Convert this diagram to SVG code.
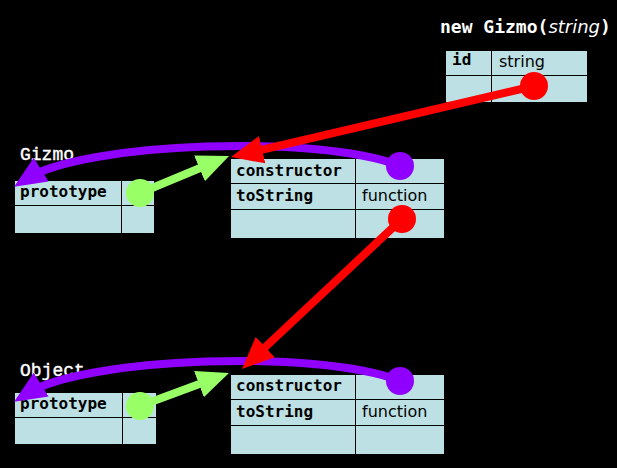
<svg xmlns="http://www.w3.org/2000/svg" width="617" height="468" viewBox="0 0 617 468">
<style>
.cell{fill:#bce0e4;stroke:#000;stroke-width:1}
.key{font-family:"DejaVu Sans Mono",monospace;font-weight:bold;font-size:16px;fill:#000}
.val{font-family:"DejaVu Sans",sans-serif;font-size:16px;fill:#000}
.name{font-family:"Liberation Mono",monospace;font-size:18px;fill:#fff;stroke:#fff;stroke-width:0.4}
.title{font-family:"DejaVu Sans Mono",monospace;font-weight:bold;font-size:18px;fill:#fff}
.title .it{font-family:"DejaVu Sans",sans-serif;font-weight:normal;font-style:italic}
.red{stroke:#ff0000;fill:none;stroke-width:8}
.pur{stroke:#8f00ff;fill:none;stroke-width:8}
.grn{stroke:#99ff66;fill:none;stroke-width:8}
</style>
<defs>
<marker id="mr" markerUnits="userSpaceOnUse" viewBox="0 0 32 28" markerWidth="32" markerHeight="28" refX="17" refY="14" orient="auto"><path d="M0,0 L32,14 L0,28 z" fill="#ff0000"/></marker>
<marker id="mp" markerUnits="userSpaceOnUse" viewBox="0 0 32 28" markerWidth="32" markerHeight="28" refX="17" refY="14" orient="auto"><path d="M0,0 L32,14 L0,28 z" fill="#8f00ff"/></marker>
<marker id="mg" markerUnits="userSpaceOnUse" viewBox="0 0 32 28" markerWidth="32" markerHeight="28" refX="17" refY="14" orient="auto"><path d="M0,0 L32,14 L0,28 z" fill="#99ff66"/></marker>
</defs>
<rect width="617" height="468" fill="#000"/>

<text class="title" x="440" y="33">new Gizmo(<tspan class="it">string</tspan>)</text>

<g id="instance">
<rect class="cell" x="445.5" y="50.5" width="46" height="25"/>
<rect class="cell" x="491.5" y="50.5" width="96" height="25"/>
<rect class="cell" x="445.5" y="75.5" width="46" height="27"/>
<rect class="cell" x="491.5" y="75.5" width="96" height="27"/>
<text class="key" x="452" y="65">id</text>
<text class="val" x="499" y="67">string</text>
</g>

<g id="gizmo">
<text class="name" x="20" y="160">Gizmo</text>
<rect class="cell" x="14.5" y="180.5" width="107" height="25"/>
<rect class="cell" x="121.5" y="180.5" width="33" height="25"/>
<rect class="cell" x="14.5" y="205.5" width="107" height="28"/>
<rect class="cell" x="121.5" y="205.5" width="33" height="28"/>
<text class="key" x="20" y="197">prototype</text>
</g>

<g id="gizmo-proto">
<rect class="cell" x="230.5" y="158.5" width="125" height="25"/>
<rect class="cell" x="355.5" y="158.5" width="89" height="25"/>
<rect class="cell" x="230.5" y="183.5" width="125" height="26"/>
<rect class="cell" x="355.5" y="183.5" width="89" height="26"/>
<rect class="cell" x="230.5" y="209.5" width="125" height="29"/>
<rect class="cell" x="355.5" y="209.5" width="89" height="29"/>
<text class="key" x="236" y="176">constructor</text>
<text class="key" x="236" y="201">toString</text>
<text class="val" x="362" y="201">function</text>
</g>

<g id="object">
<text class="name" x="20" y="376">Object</text>
<rect class="cell" x="14.5" y="392.5" width="108" height="25"/>
<rect class="cell" x="122.5" y="392.5" width="34" height="25"/>
<rect class="cell" x="14.5" y="417.5" width="108" height="27"/>
<rect class="cell" x="122.5" y="417.5" width="34" height="27"/>
<text class="key" x="20" y="409">prototype</text>
</g>

<g id="object-proto">
<rect class="cell" x="230.5" y="374.5" width="125" height="25"/>
<rect class="cell" x="355.5" y="374.5" width="89" height="25"/>
<rect class="cell" x="230.5" y="399.5" width="125" height="26"/>
<rect class="cell" x="355.5" y="399.5" width="89" height="26"/>
<rect class="cell" x="230.5" y="425.5" width="125" height="29"/>
<rect class="cell" x="355.5" y="425.5" width="89" height="29"/>
<text class="key" x="236" y="391">constructor</text>
<text class="key" x="236" y="417">toString</text>
<text class="val" x="362" y="417">function</text>
</g>

<g id="connectors">
<path class="grn" d="M140,193 L215.2,161.8" marker-end="url(#mg)"/>
<circle cx="140" cy="193" r="14" fill="#99ff66"/>
<path class="grn" d="M140,406 L214.9,378.2" marker-end="url(#mg)"/>
<circle cx="140" cy="406" r="14" fill="#99ff66"/>
<path class="pur" d="M400,166 C320,134 85,142 26.8,178.7" marker-end="url(#mp)"/>
<circle cx="400" cy="166" r="14" fill="#8f00ff"/>
<path class="pur" d="M400,381 C320,349 85,357 26.8,393.7" marker-end="url(#mp)"/>
<circle cx="400" cy="381" r="14" fill="#8f00ff"/>
<path class="red" d="M534,86 L245.6,153.6" marker-end="url(#mr)"/>
<circle cx="534" cy="86" r="14" fill="#ff0000"/>
<path class="red" d="M402,219 L252.9,358.7" marker-end="url(#mr)"/>
<circle cx="402" cy="219" r="14" fill="#ff0000"/>
</g>
</svg>
